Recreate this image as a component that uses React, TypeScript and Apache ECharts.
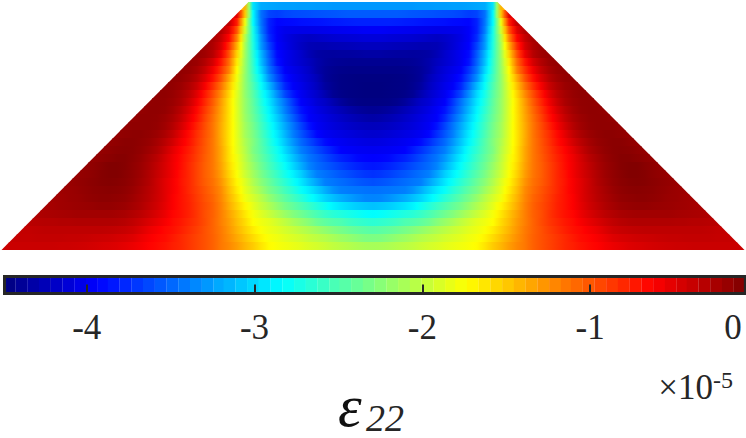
import React, { useEffect, useRef } from "react";
import * as echarts from "echarts";

const colorMin = -4.49;
const colorMax = -0.08;
const tickValues = [-4, -3, -2, -1];
const colorbarLevels = [-4.46,-4.39,-4.32,-4.25,-4.18,-4.11,-4.04,-3.97,-3.90,-3.84,-3.77,-3.70,-3.63,-3.56,-3.49,-3.42,-3.35,-3.28,-3.21,-3.15,-3.08,-3.01,-2.94,-2.87,-2.80,-2.73,-2.66,-2.59,-2.52,-2.46,-2.39,-2.32,-2.25,-2.18,-2.11,-2.04,-1.97,-1.90,-1.83,-1.77,-1.70,-1.63,-1.56,-1.49,-1.42,-1.35,-1.28,-1.21,-1.14,-1.08,-1.01,-0.94,-0.87,-0.80,-0.73,-0.66,-0.59,-0.52,-0.45,-0.39,-0.32,-0.25,-0.18,-0.11];

// Strain field, row by row from the top; each row runs from the centre line outwards.
const row00 = [-3.28,-3.28,-3.28,-3.28,-3.28,-3.28,-3.27,-3.27,-3.26,-3.26,-3.25,-3.25,-3.24,-3.22,-3.2,-2.95,-1.4];
const row01 = [-3.55,-3.55,-3.55,-3.55,-3.56,-3.57,-3.58,-3.59,-3.6,-3.61,-3.62,-3.64,-3.68,-3.65,-3.45,-2.85,-1.5,-0.5];
const row02 = [-3.8,-3.8,-3.8,-3.81,-3.82,-3.83,-3.85,-3.86,-3.87,-3.88,-3.9,-3.91,-3.92,-3.8,-3.43,-2.84,-1.8,-0.75,-0.35];
const row03 = [-3.97,-3.97,-3.98,-3.99,-4.0,-4.01,-4.02,-4.03,-4.04,-4.04,-4.03,-4.02,-3.96,-3.8,-3.39,-2.75,-1.92,-1.0,-0.5,-0.3];
const row04 = [-4.1,-4.1,-4.11,-4.12,-4.13,-4.14,-4.16,-4.18,-4.2,-4.17,-4.12,-4.05,-3.96,-3.75,-3.3,-2.72,-2.05,-1.2,-0.64,-0.38,-0.25];
const row05 = [-4.22,-4.22,-4.23,-4.24,-4.25,-4.26,-4.27,-4.27,-4.26,-4.2,-4.12,-4.03,-3.94,-3.65,-3.27,-2.7,-2.1,-1.4,-0.82,-0.45,-0.28,-0.2];
const row06 = [-4.33,-4.33,-4.34,-4.35,-4.35,-4.36,-4.35,-4.33,-4.26,-4.16,-4.08,-4.0,-3.9,-3.55,-3.14,-2.65,-2.15,-1.55,-0.98,-0.55,-0.32,-0.22,-0.18];
const row07 = [-4.41,-4.41,-4.41,-4.41,-4.4,-4.39,-4.36,-4.3,-4.22,-4.15,-4.08,-4.0,-3.86,-3.5,-3.1,-2.62,-2.17,-1.65,-1.1,-0.72,-0.45,-0.3,-0.2,-0.17];
const row08 = [-4.45,-4.45,-4.45,-4.45,-4.44,-4.42,-4.38,-4.3,-4.18,-4.1,-4.03,-3.96,-3.72,-3.42,-3.0,-2.6,-2.18,-1.74,-1.19,-0.85,-0.58,-0.38,-0.25,-0.18,-0.16];
const row09 = [-4.48,-4.48,-4.48,-4.47,-4.46,-4.43,-4.38,-4.25,-4.15,-4.07,-3.99,-3.88,-3.62,-3.31,-2.89,-2.55,-2.2,-1.79,-1.36,-0.98,-0.7,-0.48,-0.32,-0.22,-0.17,-0.15];
const row10 = [-4.49,-4.49,-4.48,-4.47,-4.46,-4.42,-4.35,-4.22,-4.12,-4.03,-3.96,-3.78,-3.47,-3.13,-2.81,-2.5,-2.2,-1.83,-1.47,-1.12,-0.84,-0.6,-0.4,-0.28,-0.2,-0.16,-0.15];
const row11 = [-4.49,-4.49,-4.48,-4.47,-4.45,-4.4,-4.28,-4.17,-4.08,-3.99,-3.85,-3.63,-3.32,-3.0,-2.74,-2.45,-2.2,-1.87,-1.55,-1.23,-0.96,-0.72,-0.5,-0.34,-0.24,-0.18,-0.15,-0.15];
const row12 = [-4.47,-4.47,-4.46,-4.43,-4.37,-4.28,-4.18,-4.12,-4.02,-3.95,-3.71,-3.45,-3.2,-2.93,-2.69,-2.42,-2.18,-1.89,-1.6,-1.3,-1.03,-0.8,-0.58,-0.4,-0.27,-0.2,-0.16,-0.15,-0.16];
const row13 = [-4.4,-4.39,-4.36,-4.31,-4.25,-4.19,-4.12,-4.05,-3.97,-3.86,-3.63,-3.39,-3.13,-2.87,-2.64,-2.4,-2.18,-1.88,-1.6,-1.33,-1.08,-0.87,-0.66,-0.47,-0.33,-0.23,-0.17,-0.15,-0.15,-0.17];
const row14 = [-4.32,-4.3,-4.27,-4.23,-4.18,-4.13,-4.07,-4.01,-3.95,-3.77,-3.53,-3.3,-3.05,-2.82,-2.59,-2.37,-2.16,-1.88,-1.61,-1.35,-1.12,-0.92,-0.71,-0.54,-0.38,-0.27,-0.2,-0.16,-0.15,-0.15,-0.17];
const row15 = [-4.23,-4.22,-4.2,-4.17,-4.13,-4.09,-4.04,-3.98,-3.86,-3.65,-3.43,-3.21,-2.98,-2.76,-2.55,-2.33,-2.13,-1.87,-1.61,-1.37,-1.14,-0.96,-0.78,-0.6,-0.44,-0.31,-0.22,-0.17,-0.15,-0.15,-0.15,-0.17];
const row16 = [-4.15,-4.14,-4.12,-4.09,-4.06,-4.03,-3.99,-3.92,-3.75,-3.57,-3.39,-3.15,-2.92,-2.72,-2.51,-2.3,-2.12,-1.86,-1.62,-1.38,-1.14,-0.98,-0.83,-0.67,-0.52,-0.37,-0.27,-0.2,-0.16,-0.14,-0.14,-0.15,-0.17];
const row17 = [-4.07,-4.06,-4.04,-4.02,-3.99,-3.96,-3.89,-3.76,-3.62,-3.48,-3.29,-3.08,-2.87,-2.67,-2.47,-2.27,-2.08,-1.85,-1.62,-1.37,-1.15,-1.0,-0.85,-0.7,-0.58,-0.44,-0.33,-0.24,-0.18,-0.15,-0.13,-0.13,-0.15,-0.17];
const row18 = [-4.0,-3.99,-3.98,-3.96,-3.94,-3.84,-3.73,-3.62,-3.5,-3.39,-3.19,-2.99,-2.78,-2.63,-2.45,-2.29,-2.05,-1.84,-1.6,-1.35,-1.15,-1.01,-0.88,-0.75,-0.64,-0.52,-0.39,-0.28,-0.21,-0.16,-0.13,-0.12,-0.13,-0.15,-0.17];
const row19 = [-3.94,-3.93,-3.91,-3.85,-3.8,-3.72,-3.62,-3.52,-3.43,-3.28,-3.09,-2.9,-2.74,-2.57,-2.41,-2.24,-2.02,-1.8,-1.6,-1.35,-1.15,-1.03,-0.9,-0.78,-0.67,-0.56,-0.44,-0.33,-0.25,-0.18,-0.14,-0.11,-0.11,-0.13,-0.15,-0.17];
const row20 = [-3.85,-3.83,-3.79,-3.74,-3.68,-3.61,-3.54,-3.47,-3.37,-3.18,-3.0,-2.82,-2.67,-2.52,-2.36,-2.18,-1.99,-1.78,-1.57,-1.33,-1.15,-1.04,-0.92,-0.8,-0.68,-0.57,-0.46,-0.36,-0.27,-0.2,-0.15,-0.11,-0.09,-0.09,-0.12,-0.15,-0.17];
const row21 = [-3.73,-3.71,-3.67,-3.62,-3.57,-3.51,-3.45,-3.39,-3.23,-3.04,-2.89,-2.75,-2.6,-2.46,-2.31,-2.13,-1.95,-1.75,-1.54,-1.31,-1.14,-1.04,-0.92,-0.8,-0.7,-0.58,-0.47,-0.38,-0.29,-0.21,-0.16,-0.12,-0.09,-0.09,-0.11,-0.14,-0.16,-0.18];
const row22 = [-3.6,-3.58,-3.55,-3.51,-3.47,-3.43,-3.39,-3.24,-3.09,-2.93,-2.79,-2.65,-2.52,-2.38,-2.24,-2.07,-1.88,-1.7,-1.49,-1.27,-1.12,-1.03,-0.92,-0.8,-0.71,-0.6,-0.5,-0.4,-0.3,-0.23,-0.17,-0.13,-0.11,-0.1,-0.11,-0.13,-0.15,-0.17,-0.19];
const row23 = [-3.45,-3.44,-3.43,-3.41,-3.39,-3.31,-3.18,-3.05,-2.92,-2.81,-2.67,-2.55,-2.42,-2.31,-2.15,-2.0,-1.84,-1.65,-1.45,-1.23,-1.1,-1.0,-0.9,-0.8,-0.7,-0.6,-0.5,-0.4,-0.32,-0.25,-0.19,-0.15,-0.13,-0.12,-0.13,-0.14,-0.16,-0.18,-0.2,-0.21];
const row24 = [-3.37,-3.36,-3.31,-3.25,-3.19,-3.11,-3.02,-2.9,-2.79,-2.66,-2.55,-2.44,-2.32,-2.19,-2.04,-1.91,-1.79,-1.59,-1.41,-1.21,-1.07,-0.98,-0.88,-0.78,-0.7,-0.62,-0.5,-0.41,-0.33,-0.27,-0.21,-0.17,-0.15,-0.14,-0.14,-0.15,-0.17,-0.19,-0.2,-0.22,-0.23];
const row25 = [-3.1,-3.08,-3.05,-3.0,-2.95,-2.88,-2.78,-2.69,-2.59,-2.5,-2.41,-2.32,-2.2,-2.08,-1.97,-1.84,-1.7,-1.54,-1.37,-1.19,-1.05,-0.96,-0.87,-0.77,-0.7,-0.62,-0.52,-0.43,-0.36,-0.29,-0.24,-0.2,-0.18,-0.17,-0.17,-0.18,-0.19,-0.2,-0.21,-0.22,-0.24,-0.25];
const row26 = [-2.84,-2.82,-2.78,-2.74,-2.7,-2.66,-2.6,-2.52,-2.44,-2.35,-2.27,-2.17,-2.07,-1.97,-1.87,-1.77,-1.63,-1.48,-1.33,-1.18,-1.05,-0.97,-0.86,-0.77,-0.7,-0.65,-0.55,-0.47,-0.4,-0.34,-0.3,-0.26,-0.24,-0.23,-0.23,-0.23,-0.23,-0.23,-0.24,-0.25,-0.26,-0.27,-0.28];
const row27 = [-2.65,-2.63,-2.6,-2.56,-2.5,-2.47,-2.42,-2.36,-2.26,-2.18,-2.1,-2.01,-1.93,-1.85,-1.8,-1.73,-1.58,-1.45,-1.3,-1.18,-1.06,-0.96,-0.87,-0.8,-0.73,-0.68,-0.6,-0.53,-0.47,-0.41,-0.36,-0.32,-0.3,-0.29,-0.29,-0.29,-0.29,-0.29,-0.3,-0.3,-0.31,-0.31,-0.32,-0.33];
const row28 = [-2.46,-2.44,-2.41,-2.37,-2.32,-2.27,-2.21,-2.15,-2.09,-2.03,-1.97,-1.92,-1.86,-1.81,-1.75,-1.65,-1.53,-1.41,-1.28,-1.16,-1.06,-0.98,-0.9,-0.83,-0.76,-0.7,-0.66,-0.6,-0.55,-0.48,-0.42,-0.39,-0.37,-0.36,-0.35,-0.35,-0.35,-0.35,-0.35,-0.35,-0.35,-0.35,-0.36,-0.37,-0.37];
const row29 = [-2.3,-2.29,-2.25,-2.2,-2.16,-2.11,-2.06,-2.02,-1.98,-1.93,-1.89,-1.85,-1.8,-1.76,-1.68,-1.58,-1.47,-1.36,-1.25,-1.15,-1.05,-0.98,-0.92,-0.86,-0.8,-0.74,-0.68,-0.65,-0.6,-0.55,-0.49,-0.46,-0.44,-0.42,-0.41,-0.4,-0.39,-0.38,-0.38,-0.37,-0.37,-0.37,-0.37,-0.38,-0.38,-0.38];
const row30 = [-2.12,-2.11,-2.09,-2.06,-2.03,-2.0,-1.96,-1.92,-1.89,-1.85,-1.82,-1.79,-1.76,-1.72,-1.62,-1.51,-1.42,-1.31,-1.22,-1.15,-1.05,-0.98,-0.92,-0.86,-0.8,-0.76,-0.71,-0.67,-0.64,-0.59,-0.55,-0.52,-0.49,-0.47,-0.46,-0.44,-0.43,-0.42,-0.41,-0.41,-0.4,-0.4,-0.4,-0.4,-0.4,-0.4,-0.4];

const fieldRows = [row00,row01,row02,row03,row04,row05,row06,row07,row08,row09,row10,row11,row12,row13,row14,row15,row16,row17,row18,row19,row20,row21,row22,row23,row24,row25,row26,row27,row28,row29,row30];

const CELL = 8;
const TOP_HALF = 124.5;
const BOTTOM_HALF = 371.5;
const INK = "#262626";
const SERIF = "Liberation Serif";

const clamp01 = (v: number) => Math.max(0, Math.min(1, v));
function jet(v: number) {
  const t = clamp01((v - colorMin) / (colorMax - colorMin));
  const r = clamp01(Math.min(4 * t - 1.5, -4 * t + 4.5));
  const g = clamp01(Math.min(4 * t - 0.5, -4 * t + 3.5));
  const b = clamp01(Math.min(4 * t + 0.5, -4 * t + 2.5));
  return `rgb(${Math.round(r * 255)},${Math.round(g * 255)},${Math.round(b * 255)})`;
}

const halfWidthAt = (row: number) =>
  TOP_HALF + ((BOTTOM_HALF - TOP_HALF) * row) / fieldRows.length;

// Keep the part of a cell that lies on the inner side of one slanted edge.
function clipToEdge(pts: number[][], sign: number) {
  const out: number[][] = [];
  const inside = (p: number[]) => sign * p[0] <= halfWidthAt(p[1]);
  for (let i = 0; i < pts.length; i++) {
    const a = pts[i];
    const b = pts[(i + 1) % pts.length];
    const ia = inside(a);
    const ib = inside(b);
    if (ia) out.push(a);
    if (ia !== ib) {
      const fa = sign * a[0] - halfWidthAt(a[1]);
      const fb = sign * b[0] - halfWidthAt(b[1]);
      const s = fa / (fa - fb);
      out.push([a[0] + (b[0] - a[0]) * s, a[1] + (b[1] - a[1]) * s]);
    }
  }
  return out;
}

const fieldData: number[][] = [];
fieldRows.forEach((row, r) => {
  row.forEach((v, k) => {
    fieldData.push([k * CELL, r, v]);
    if (k > 0) fieldData.push([-k * CELL, r, v]);
  });
});

function valueAt(r: number, x: number) {
  return fieldRows[r][Math.abs(x) / CELL];
}

function renderField(params: any, api: any) {
  const x = api.value(0);
  const r = api.value(1);
  const v = api.value(2);
  const lap = 0.35;
  const xa = x - CELL / 2 - lap;
  const xb = x + CELL / 2 + lap;
  const r0 = r;
  const r1 = r + 1 + (r < fieldRows.length - 1 ? 0.06 : 0);
  let pts = [[xa, r0], [xb, r0], [xb, r1], [xa, r1]];
  pts = clipToEdge(pts, 1);
  if (pts.length) pts = clipToEdge(pts, -1);
  if (pts.length < 3) return null;
  const left = valueAt(r, x - CELL);
  const right = valueAt(r, x + CELL);
  const vl = left === undefined ? v : (left + v) / 2;
  const vr = right === undefined ? v : (right + v) / 2;
  const px0 = api.coord([x - CELL / 2, r + 0.5])[0];
  const px1 = api.coord([x + CELL / 2, r + 0.5])[0];
  return {
    type: "polygon",
    silent: true,
    shape: { points: pts.map((p) => api.coord(p)) },
    style: {
      fill: new echarts.graphic.LinearGradient(
        px0, 0, px1, 0,
        [
          { offset: 0, color: jet(vl) },
          { offset: 0.5, color: jet(v) },
          { offset: 1, color: jet(vr) },
        ],
        true
      ),
      stroke: "none",
    },
  };
}

function renderColorbar(params: any, api: any) {
  const v = api.value(0);
  const half = (colorMax - colorMin) / colorbarLevels.length / 2;
  const a = api.coord([Math.max(v - half, colorMin + 0.009), 1]);
  const b = api.coord([Math.min(v + half + 0.002, colorMax - 0.004), 0]);
  return {
    type: "rect",
    silent: true,
    shape: { x: a[0], y: a[1] + 1.5, width: b[0] - a[0], height: b[1] - a[1] - 3 },
    style: { fill: jet(v), stroke: "none" },
  };
}

export default function App() {
  const ref = useRef<HTMLDivElement>(null);
  useEffect(() => {
    document.body.style.margin = "0";
    const chart = echarts.init(ref.current!, undefined, { renderer: "svg" });
    chart.setOption({
      animation: false,
      backgroundColor: "#ffffff",
      textStyle: { fontFamily: SERIF },
      grid: [
        { left: 0, top: 2, width: 746, height: 248, show: false },
        { left: 4.5, top: 276.5, width: 740, height: 17, show: true, borderColor: INK, borderWidth: 3, backgroundColor: "transparent" },
      ],
      xAxis: [
        { type: "value", gridIndex: 0, min: -373, max: 373, show: false },
        {
          type: "value",
          gridIndex: 1,
          min: colorMin,
          max: colorMax,
          z: 5,
          splitLine: { show: false },
          axisLine: { show: false },
          axisTick: { show: true, inside: true, length: 9, lineStyle: { color: INK, width: 2 }, customValues: tickValues },
          axisLabel: {
            show: true,
            customValues: tickValues,
            color: INK,
            fontFamily: SERIF,
            fontSize: 35,
            margin: 16,
            formatter: (v: number) => String(v),
          },
        },
      ],
      yAxis: [
        { type: "value", gridIndex: 0, min: 0, max: fieldRows.length, inverse: true, show: false },
        { type: "value", gridIndex: 1, min: 0, max: 1, show: false },
      ],
      series: [
        {
          type: "custom",
          name: "strain",
          xAxisIndex: 0,
          yAxisIndex: 0,
          clip: false,
          silent: true,
          data: fieldData,
          renderItem: renderField,
        },
        {
          type: "custom",
          name: "colorbar",
          xAxisIndex: 1,
          yAxisIndex: 1,
          clip: false,
          silent: true,
          data: colorbarLevels.map((v) => [v]),
          encode: { x: 0 },
          renderItem: renderColorbar,
        },
      ],
      graphic: [
        { type: "text", x: 733, y: 327, style: { text: "0", fill: INK, fontFamily: SERIF, fontSize: 35, align: "center", verticalAlign: "middle" } },
        { type: "text", x: 713, y: 387, style: { text: "×10", fill: INK, fontFamily: SERIF, fontSize: 35, align: "right", verticalAlign: "middle" } },
        { type: "text", x: 713, y: 380, style: { text: "-5", fill: INK, fontFamily: SERIF, fontSize: 24, align: "left", verticalAlign: "middle" } },
        { type: "text", x: 338, y: 406, style: { text: "ε", fill: "#111111", fontFamily: SERIF, fontStyle: "italic", fontSize: 60, align: "left", verticalAlign: "middle" } },
        { type: "text", x: 366, y: 418, style: { text: "22", fill: INK, fontFamily: SERIF, fontStyle: "italic", fontSize: 38, align: "left", verticalAlign: "middle" } },
      ],
    });
    return () => chart.dispose();
  }, []);
  return <div ref={ref} style={{ width: 746, height: 438 }} />;
}
